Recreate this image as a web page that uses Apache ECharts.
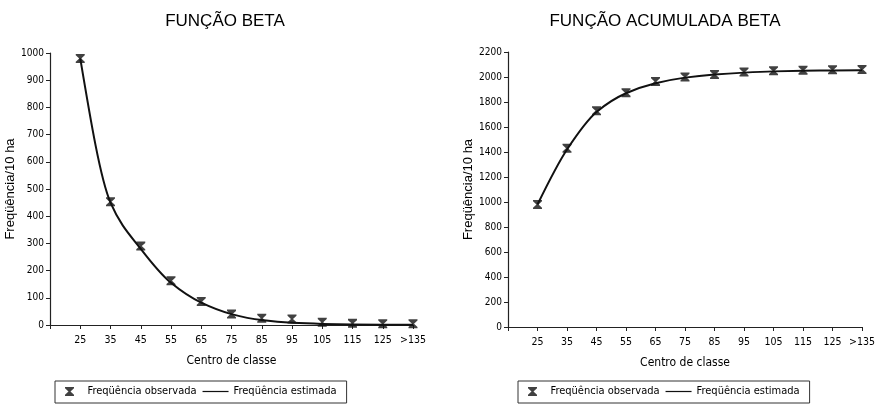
<!DOCTYPE html>
<html>
<head>
<meta charset="utf-8">
<script src="https://cdn.jsdelivr.net/npm/echarts@6/dist/echarts.min.js"></script>
<style>
  html, body { margin: 0; padding: 0; background: #fff; }
  #chart { width: 878px; height: 406px; }
</style>
</head>
<body>
<div id="chart"></div>
<script>
// classes de diâmetro (centro de classe)
var categorias = ['25', '35', '45', '55', '65', '75', '85', '95', '105', '115', '125', '>135'];

// função beta: frequência por classe
var betaObservada = [980, 453, 290, 163, 86, 40, 25, 22, 10, 6, 5, 5];
var betaEstimada  = [980, 450, 280, 155, 82, 40, 18, 8, 4, 2, 1, 0.5];

// função acumulada
var acumObservada = [980, 1430, 1730, 1875, 1965, 2000, 2020, 2040, 2050, 2055, 2058, 2060];
var acumEstimada  = [980, 1420, 1720, 1870, 1950, 1995, 2020, 2035, 2045, 2050, 2052, 2055];

var fonte = '"DejaVu Sans Condensed", "Liberation Sans Narrow", "Liberation Sans", Arial, sans-serif';
var marcaX = 'path://M0,0H10V1.4L6.1,5L10,8.6V10H0V8.6L3.9,5L0,1.4Z';
var traco = 'path://M0,4.3H30V5.7H0Z';

function pares(vals) {
    // posição 1..12 no eixo, uma por classe
    return vals.map(function (v, i) { return [i + 1, v]; });
}

// curva suavizada (tangentes pela média harmônica, sem ondulações)
function curva(vals) {
    return function (params, api) {
        if (params.dataIndex !== 0) return;
        var p = vals.map(function (v, i) { return api.coord([i + 1, v]); });
        var n = p.length, s = [], m = [];
        for (var i = 0; i < n - 1; i++) {
            s.push((p[i + 1][1] - p[i][1]) / (p[i + 1][0] - p[i][0]));
        }
        for (i = 1; i < n - 1; i++) {
            m[i] = s[i - 1] * s[i] > 0 ? 2 * s[i - 1] * s[i] / (s[i - 1] + s[i]) : 0;
        }
        m[0] = (3 * s[0] - m[1]) / 2;
        if (m[0] * s[0] <= 0) m[0] = 0;
        m[n - 1] = (3 * s[n - 2] - m[n - 2]) / 2;
        if (m[n - 1] * s[n - 2] <= 0) m[n - 1] = 0;
        var d = 'M' + p[0][0] + ',' + p[0][1];
        for (i = 0; i < n - 1; i++) {
            var h = (p[i + 1][0] - p[i][0]) / 3;
            d += 'C' + (p[i][0] + h) + ',' + (p[i][1] + m[i] * h) + ' ' +
                 (p[i + 1][0] - h) + ',' + (p[i + 1][1] - m[i + 1] * h) + ' ' +
                 p[i + 1][0] + ',' + p[i + 1][1];
        }
        return {
            type: 'path',
            shape: { pathData: d },
            style: { fill: 'none', stroke: '#111', lineWidth: 2 }
        };
    };
}

function eixoX(idx) {
    return {
        type: 'value', gridIndex: idx, min: 0, max: 12, interval: 1,
        name: 'Centro de classe', nameLocation: 'middle', nameGap: 30,
        nameTextStyle: { color: '#000', fontFamily: fonte, fontSize: 12 },
        axisLine: { lineStyle: { color: '#222', width: 1.2 } },
        axisTick: { length: 4, lineStyle: { color: '#222' } },
        splitLine: { show: false },
        axisLabel: {
            color: '#000', fontFamily: fonte, fontSize: 10.5, margin: 10,
            formatter: function (v) { return v >= 1 ? categorias[v - 1] : ''; }
        }
    };
}

function eixoY(idx, max, intervalo) {
    return {
        type: 'value', gridIndex: idx, min: 0, max: max, interval: intervalo,
        name: 'Freqüência/10 ha', nameLocation: 'middle', nameGap: 33, nameRotate: 90,
        nameTextStyle: { color: '#000', fontFamily: 'Liberation Sans, Arial', fontSize: 13 },
        axisLine: { show: true, lineStyle: { color: '#222', width: 1.2 } },
        axisTick: { show: true, length: 4, lineStyle: { color: '#222' } },
        splitLine: { show: false },
        axisLabel: { color: '#000', fontFamily: fonte, fontSize: 10, margin: 6,
                     formatter: function (v) { return String(v); } }
    };
}

function legenda(left) {
    return {
        left: left, top: 381, orient: 'horizontal',
        borderColor: '#333', borderWidth: 1, borderRadius: 0,
        padding: [5, 10, 6, 10], itemGap: 6, itemWidth: 26, itemHeight: 9,
        textStyle: { color: '#000', fontFamily: fonte, fontSize: 11 },
        data: [
            { name: 'Freqüência observada', icon: marcaX, itemStyle: { color: '#111' } },
            { name: 'Freqüência estimada', icon: traco, itemStyle: { color: '#111' } }
        ]
    };
}

var myChart = echarts.init(document.getElementById('chart'));

var option = {
    backgroundColor: '#fff',
    animation: false,
    title: [
        { text: 'FUNÇÃO BETA', left: 220, top: 8, textAlign: 'center',
          textStyle: { color: '#000', fontFamily: 'Liberation Sans, Arial', fontSize: 17, fontWeight: 'normal' } },
        { text: 'FUNÇÃO ACUMULADA BETA', left: 660, top: 8, textAlign: 'center',
          textStyle: { color: '#000', fontFamily: 'Liberation Sans, Arial', fontSize: 17, fontWeight: 'normal' } }
    ],
    legend: [legenda(55), legenda(518)],
    grid: [
        { left: 50, top: 53, width: 363, height: 272 },
        { left: 508, top: 52, width: 360, height: 275 }
    ],
    xAxis: [eixoX(0), eixoX(1)],
    yAxis: [eixoY(0, 1000, 100), eixoY(1, 2200, 200)],
    series: [
        { name: 'Freqüência estimada', type: 'custom', xAxisIndex: 0, yAxisIndex: 0,
          data: pares(betaEstimada), renderItem: curva(betaEstimada),
          itemStyle: { color: '#111' } },
        { name: 'Freqüência observada', type: 'scatter', xAxisIndex: 0, yAxisIndex: 0,
          data: pares(betaObservada), symbol: marcaX, symbolSize: 9,
          itemStyle: { color: '#111' } },
        { name: 'Freqüência estimada', type: 'custom', xAxisIndex: 1, yAxisIndex: 1,
          data: pares(acumEstimada), renderItem: curva(acumEstimada),
          itemStyle: { color: '#111' } },
        { name: 'Freqüência observada', type: 'scatter', xAxisIndex: 1, yAxisIndex: 1,
          data: pares(acumObservada), symbol: marcaX, symbolSize: 9,
          itemStyle: { color: '#111' } }
    ]
};

myChart.setOption(option);
</script>
</body>
</html>
